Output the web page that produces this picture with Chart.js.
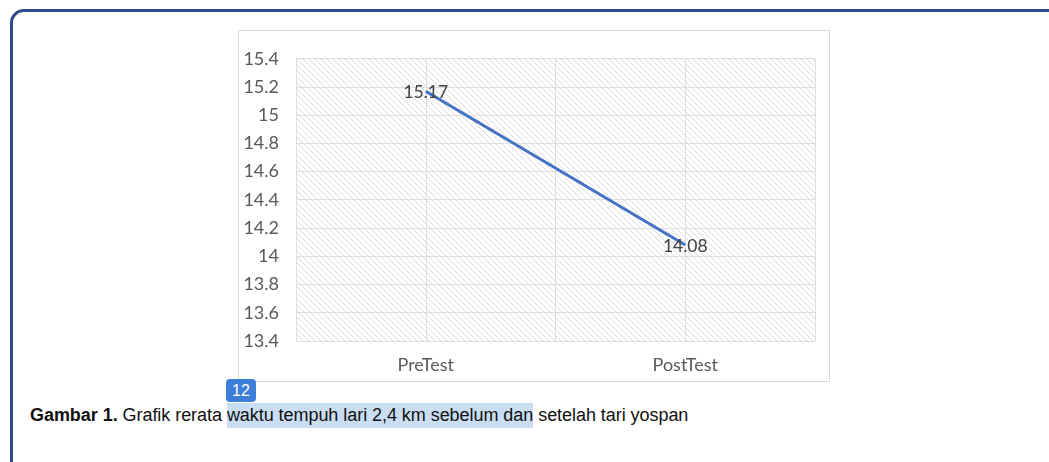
<!DOCTYPE html>
<html>
<head>
<meta charset="utf-8">
<script src="https://cdn.jsdelivr.net/npm/chart.js@4"></script>
<style>
  html, body { margin: 0; padding: 0; background: #fff; width: 1049px; height: 462px; overflow: hidden; }
  .kotak {
    position: absolute; left: 10px; top: 9px; width: 1100px; height: 520px;
    border: 3px solid #2b4a86; border-radius: 14px; box-sizing: border-box;
  }
  .bingkai {
    position: absolute; left: 238px; top: 30px; width: 590px; height: 350px;
    border: 1px solid #d9d9d9;
  }
  .lencana {
    position: absolute; left: 226px; top: 379px; width: 30px; height: 23px;
    background: #3d7fd8; color: #fff; border-radius: 4px;
    font: 16px "Liberation Sans", Arial, sans-serif; text-align: center; line-height: 23px;
  }
  .keterangan {
    position: absolute; left: 30px; top: 405px; white-space: nowrap;
    font: 18px "Liberation Sans", Arial, sans-serif; color: #111; letter-spacing: -0.05px;
  }
  .sorot { background: #c9ddf3; padding: 2px 0 3px 0; }
</style>
</head>
<body>
<div class="kotak"></div>
<div class="bingkai"><canvas id="grafik" width="590" height="350"></canvas></div>
<div class="lencana">12</div>
<div class="keterangan"><b>Gambar 1.</b> Grafik rerata <span class="sorot">waktu tempuh lari 2,4 km sebelum dan</span> setelah tari yospan</div>

<script>
const kategori = ['PreTest', 'PostTest']
const rerata = [15.17, 14.08]
const tickY = [13.4, 13.6, 13.8, 14, 14.2, 14.4, 14.6, 14.8, 15, 15.2, 15.4]

// pola arsiran latar area plot
function buatPola() {
    const c = document.createElement('canvas')
    c.width = 6
    c.height = 6
    const g = c.getContext('2d')
    g.fillStyle = '#ffffff'
    g.fillRect(0, 0, 6, 6)
    g.strokeStyle = '#dadada'
    g.lineWidth = 1
    g.beginPath()
    g.moveTo(-1, -1); g.lineTo(7, 7)
    g.moveTo(-1, 5); g.lineTo(1, 7)
    g.moveTo(5, -1); g.lineTo(7, 1)
    g.stroke()
    return g.createPattern(c, 'repeat')
}

const pluginLatar = {
    id: 'latar',
    beforeDraw(chart) {
        const a = chart.chartArea
        const ctx = chart.ctx
        ctx.save()
        ctx.fillStyle = buatPola()
        ctx.fillRect(a.left, a.top, a.right - a.left, a.bottom - a.top)
        ctx.restore()
    },
    beforeDatasetsDraw(chart) {
        // garis vertikal di tengah kategori
        const a = chart.chartArea
        const ctx = chart.ctx
        const sx = chart.scales.x
        ctx.save()
        ctx.strokeStyle = '#dedede'
        ctx.lineWidth = 1
        for (let i = 0; i < kategori.length; i++) {
            const x = Math.round(sx.getPixelForValue(i)) + 0.5
            ctx.beginPath()
            ctx.moveTo(x, a.top)
            ctx.lineTo(x, a.bottom)
            ctx.stroke()
        }
        ctx.restore()
    },
    afterDatasetsDraw(chart) {
        // label data di tengah titik
        const ctx = chart.ctx
        const meta = chart.getDatasetMeta(0)
        ctx.save()
        ctx.font = '17.5px Lato, "Open Sans", sans-serif'
        ctx.fillStyle = '#404040'
        ctx.textAlign = 'center'
        ctx.textBaseline = 'middle'
        meta.data.forEach((p, i) => {
            ctx.fillText(String(rerata[i]), p.x, p.y + 1)
        })
        ctx.restore()
    }
}

const grafik = document.getElementById('grafik')

new Chart(grafik, {
    type: 'line',
    data: {
        labels: kategori,
        datasets: [{
            label: '',
            data: rerata,
            borderColor: '#4472C4',
            borderWidth: 3,
            pointRadius: 0,
            tension: 0
        }]
    },
    options: {
        responsive: false,
        animation: false,
        layout: { padding: { top: 26, right: 14, left: 0, bottom: 0 } },
        plugins: {
            legend: { display: false },
            tooltip: { enabled: false }
        },
        scales: {
            x: {
                offset: true,
                grid: { offset: true, color: '#dedede', drawTicks: false },
                border: { color: '#dedede' },
                ticks: { color: '#595959', padding: 13, font: { family: 'Lato', size: 18 } },
                afterFit(s) { s.height = 40 }
            },
            y: {
                min: 13.4,
                max: 15.4,
                afterBuildTicks(s) { s.ticks = tickY.map(v => ({ value: v })) },
                grid: { color: '#dedede', drawTicks: false },
                border: { color: '#dedede' },
                ticks: {
                    color: '#595959', padding: 17, font: { family: 'Lato', size: 18 },
                    callback: v => String(Math.round(v * 10) / 10)
                },
                afterFit(s) { s.width = 57 }
            }
        }
    },
    plugins: [pluginLatar]
})
</script>
</body>
</html>
